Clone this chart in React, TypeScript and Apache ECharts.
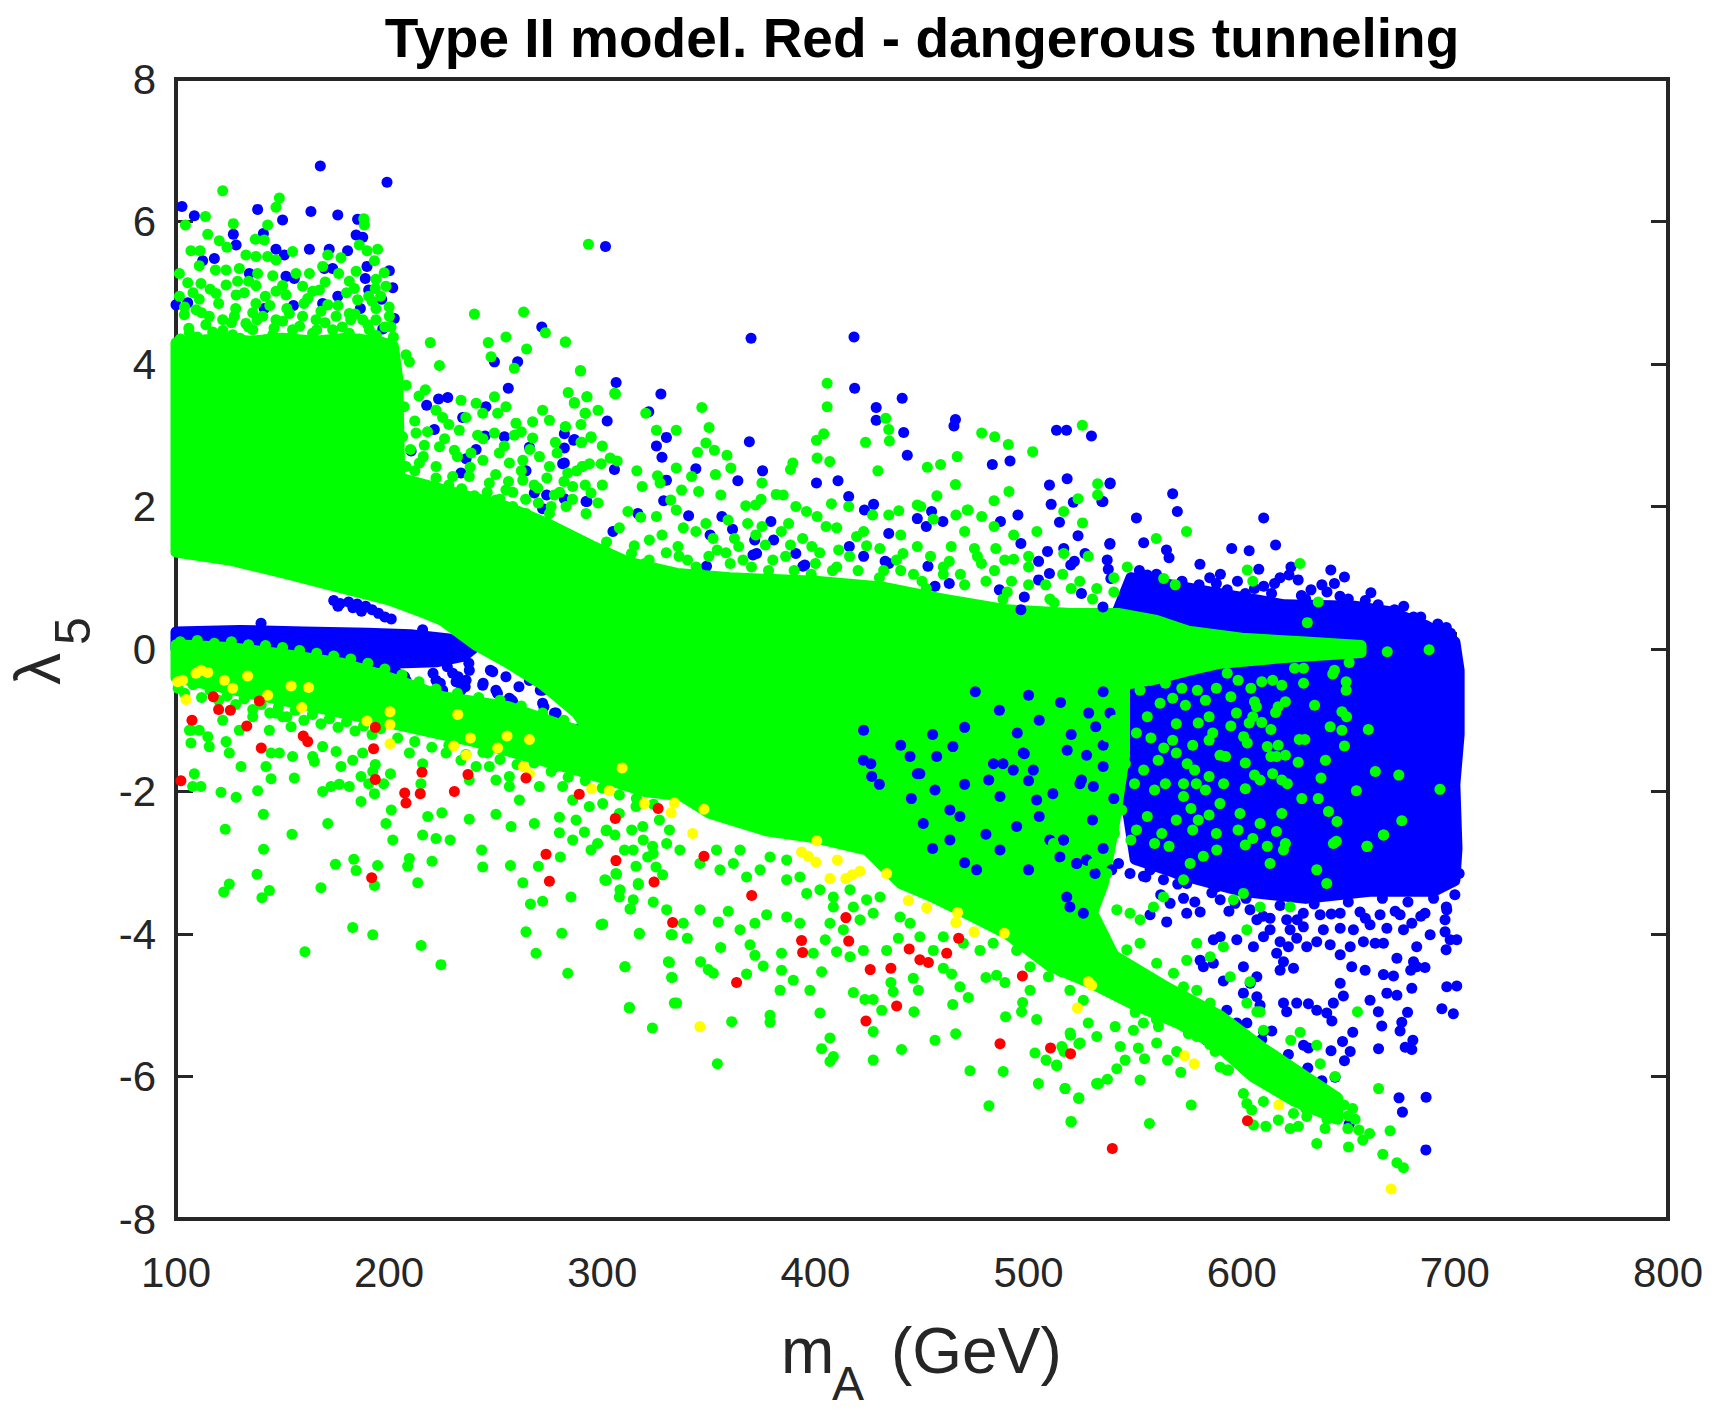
import React, { useEffect, useRef } from "react";
import * as echarts from "echarts";

const FONT = '"Liberation Sans", Arial, Helvetica, sans-serif';
const AXIS_COLOR = "#262626";

const xTicks = { min: 100, max: 800, interval: 100 };
const yTicks = { min: -8, max: 8, interval: 2 };

const titleText = "Type II model. Red - dangerous tunneling";

// Dense (overplotted) regions, traced as outlines in data units
const greenMainOutline = [
  [100, 1.36], [100, 4.3], [108, 4.32], [120, 4.36], [135, 4.32], [150, 4.36], [165, 4.32], [180, 4.36], [195, 4.32], [202, 4.25],
  [204, 3.8], [205, 2.4], [230, 2.2], [255, 2.0], [275, 1.75], [295, 1.45], [312, 1.22], [335, 1.06], [360, 1.0], [400, 0.95],
  [431, 0.87], [460, 0.7], [490, 0.55], [520, 0.5], [542, 0.5], [560, 0.4], [575, 0.25], [600, 0.15], [630, 0.1], [656, 0.05],
  [656, -0.05], [620, -0.12], [590, -0.2], [575, -0.3], [560, -0.42], [545, -0.5], [545, -1.5], [540, -2.5], [535, -3.3],
  [530, -3.7], [540, -4.3], [565, -4.75], [590, -5.15], [610, -5.6], [630, -6.0], [645, -6.3], [645, -6.6],
  [625, -6.35], [605, -6.0], [590, -5.6], [570, -5.25], [550, -5.0], [530, -4.7], [510, -4.45], [490, -4.0], [470, -3.7],
  [455, -3.48], [440, -3.29], [424, -2.82], [400, -2.65], [377, -2.55], [350, -2.3], [334, -2.0], [311, -1.6], [295, -1.2],
  [288, -0.9], [272, -0.5], [256, -0.2], [241, 0.05], [225, 0.4], [217, 0.5], [200, 0.69], [175, 0.88], [150, 1.07], [125, 1.25]
];

const greenLowerBandOutline = [
  [100, 0.06], [125, 0.02], [147, -0.06], [178, -0.2], [194, -0.34], [210, -0.5], [225, -0.67], [256, -0.81], [288, -1.14],
  [310, -1.46], [320, -1.7], [334, -2.05], [320, -2.0], [288, -1.7], [240, -1.3], [194, -1.0], [147, -0.7], [100, -0.4]
];

const blueRightOutline = [
  [548, 1.0], [585, 0.8], [620, 0.62], [653, 0.6], [670, 0.52], [687, 0.32], [700, 0.1], [702, -0.3], [702, -1.2], [700, -1.9],
  [701, -2.8], [700, -3.25], [690, -3.4], [660, -3.4], [630, -3.5], [600, -3.4], [575, -3.2], [550, -2.95], [540, -1.0], [540, 0.4]
];

const blueLowOutline = [
  [100, 0.24], [130, 0.26], [160, 0.24], [190, 0.22], [210, 0.2], [228, 0.14], [240, 0.02], [235, -0.1], [222, -0.18],
  [200, -0.2], [175, -0.16], [150, -0.1], [125, -0.05], [100, 0.0]
];

const bluePoints = [
  [167.7, 6.78], [199, 6.55], [102.8, 6.21], [108.6, 6.08], [138.3, 6.17], [150, 6.02], [163.3, 6.14], [175.9, 6.09], [185.2, 6.03],
  [184.5, 5.81], [187.6, 5.78], [126.9, 5.82], [141, 5.83], [128.2, 5.67], [146.9, 5.61], [150.8, 5.53], [118, 5.48], [112.5, 5.45],
  [162.6, 5.61], [171.9, 5.61], [180.5, 5.59], [189.6, 5.37], [200.1, 5.31], [201.7, 5.07], [188.8, 5.2], [173.5, 5.34], [169.6, 5.34],
  [155.5, 5.2], [151.6, 5.23], [134.4, 5.27], [105.5, 4.86], [100, 4.83], [175.9, 4.95], [155.1, 4.82], [168.8, 4.85], [196.5, 4.91],
  [190.4, 5.04], [202.4, 4.64], [197, 4.49], [186.5, 4.78], [107, 4.24], [141.4, 4.78],
  [271.6, 4.52], [249.4, 4.03], [260.3, 4.03], [255.9, 3.66], [223.2, 3.51], [227.5, 3.53], [217.6, 3.42], [245.4, 3.4], [234.5, 3.25],
  [221.2, 3.08], [210.3, 2.78], [245, 2.99], [254.1, 2.98], [265.8, 2.83], [282.2, 2.82], [286.9, 2.94], [282.2, 3.02], [281.4, 2.6],
  [236.1, 2.67], [233.7, 2.47], [220.4, 2.26], [264.2, 2.5], [268.1, 2.19], [273.9, 2.16], [292.4, 2.07], [272, 1.97], [215, 1.97], [240.8, 2.8],
  [301.5, 5.65], [369.8, 4.36], [418.1, 4.38],
  [306.5, 3.74], [327.5, 3.58], [302.3, 3.2], [286.6, 2.93], [282.2, 2.61], [325.4, 2.85], [330.1, 2.97], [328, 2.69], [321.8, 3.33],
  [369, 2.91], [305.7, 2.52], [343.9, 2.53], [363.6, 2.36], [375.2, 2.5], [330.1, 2.37], [328.8, 2.08], [316.7, 1.9], [305, 1.65],
  [418.4, 3.66], [440.7, 3.52], [428.5, 3.39], [428.5, 3.21], [441.4, 3.04], [443.1, 2.72], [465.7, 3.22], [465, 3.13], [483, 2.59],
  [491.3, 2.64], [513.1, 3.07], [517.8, 3.07], [529.5, 2.99], [518.1, 2.39], [509.8, 2.3], [538.2, 2.32], [534.4, 2.07], [510.6, 2.03],
  [521, 2.06], [514.5, 1.78], [400.5, 2.33], [410.6, 2.36], [415.6, 2.14], [427.3, 2.03], [423, 1.95], [459.8, 1.79], [454.5, 1.93],
  [486.8, 1.79], [495, 1.88], [356.1, 1.86], [361.1, 1.68], [350.6, 1.6], [379.1, 1.79], [380.4, 1.53], [371.5, 1.53], [523.2, 1.59],
  [538.2, 1.48], [526.5, 1.34], [508.9, 1.37], [504.7, 1.23], [519.8, 1.18], [537.4, 1.12], [452.8, 1.16], [452, 1.72], [447.8, 1.83],
  [434.4, 1.62], [432.7, 1.23], [395, 1.18], [390.8, 1.34], [370.7, 1.32], [348.9, 1.16], [340.5, 1.87], [292.8, 2.07], [282.2, 2.11],
  [372.4, 1.34], [394.1, 1.16], [415.9, 1.44], [422.6, 1.3], [434.4, 1.2], [496.4, 1.48], [516.5, 1.41], [521.5, 1.23],
  [538.3, 2.33], [567.6, 2.18], [569.8, 1.93], [534.9, 2.07], [550.6, 1.84], [610.3, 1.84], [538.1, 1.47], [554, 1.49], [564.7, 1.39],
  [565.9, 1.28], [580.4, 1.19], [595.3, 1.41], [603.5, 1.38], [615.9, 1.46], [623.1, 1.15], [641.8, 1.11], [648.2, 1.01], [660.6, 0.79],
  [671.7, 0.55], [680.6, 0.45], [536.9, 1.25], [538.6, 0.99], [555.7, 1.04], [557.4, 0.83], [567.6, 0.74], [576.2, 0.78], [588.1, 0.92],
  [593.2, 0.83], [601.7, 0.78], [610.3, 0.88], [615.4, 0.92], [622.2, 1.04], [626.5, 0.97], [632.5, 0.83], [637.6, 0.9], [643.5, 0.92],
  [646.1, 0.74], [653, 0.55], [574.4, 0.64], [584.7, 0.69],
  [552, 1.1], [560, 1.05], [572, 0.95], [580, 0.9], [590, 1.05], [598, 0.95], [606, 0.85], [614, 0.78], [628, 0.75], [640, 0.8],
  [650, 0.7], [658, 0.68], [664, 0.62], [676, 0.6], [684, 0.45], [692, 0.35], [698, 0.22], [700, 0.05], [696, 0.3], [630, 0.7],
  [618, 1.0], [608, 1.12], [585, 1.0],
  [702, -3.15], [700, -3.45], [696, -3.62], [690, -3.5], [684, -3.75], [678, -3.55], [672, -3.68], [666, -3.5], [658, -3.78], [650, -3.55],
  [642, -3.72], [634, -3.58], [626, -3.8], [618, -3.6], [610, -3.75], [602, -3.5], [594, -3.68], [586, -3.42], [578, -3.55], [570, -3.3],
  [562, -3.45], [555, -3.2],
  [217.3, -0.15], [220.6, -0.34], [227.3, -0.25], [224, -0.48], [232.4, -0.39], [237.4, -0.2], [235.7, -0.53], [244.1, -0.48], [247.5, -0.3],
  [250.8, -0.62], [257.5, -0.72], [260.9, -0.53], [265.9, -0.44], [270.9, -0.58], [272.6, -0.81], [277.6, -0.9], [259.2, -0.81], [200.5, -0.3],
  [207.2, -0.39], [213.9, -0.58], [204.7, -0.15], [192.2, -0.3], [183.8, -0.25], [178.8, -0.15], [222, -0.44], [225.1, -0.58], [229.8, -0.34],
  [231.4, -0.46], [236.1, -0.44], [233.7, -0.58], [237.6, -0.3], [243.9, -0.51], [248.6, -0.32], [250.1, -0.58], [256.4, -0.69], [258, -0.74],
  [261.1, -0.88], [265.8, -0.44], [272, -0.58], [272, -0.76], [278.3, -0.9], [281.4, -1.02], [288.5, -1.13], [272.8, -1.0], [254.8, -0.39],
  [139.9, 0.36], [203.2, -0.32], [207.9, -0.44], [215.7, 0.27], [200.1, -0.06], [190.7, -0.11],
  [174, 0.68], [177, 0.64], [181, 0.66], [185, 0.63], [189, 0.6], [192, 0.55], [195, 0.5], [198, 0.45], [176, 0.6], [183, 0.58], [201, 0.42], [187, 0.53],
  [542.2, -3.01], [547.6, -3.15], [553.9, -3.19], [557, -3.1], [563.3, -3.24], [569.5, -3.15], [574.2, -3.29], [580.5, -3.19], [588.3, -3.34], [591.4, -3.29],
  [673.8, -6.3], [686.5, -6.29], [675.4, -6.5], [686.4, -7.03], [643, -6.45], [650.4, -6.67], [643.8, -6.01], [637.6, -6.06], [631, -5.88],
  [617.7, -5.77], [621.9, -5.69], [648.2, -5.78], [650.9, -5.65], [641.9, -5.64], [664.2, -5.61], [676.7, -5.59], [679.8, -5.62], [680.3, -5.49],
  [674.3, -5.36], [665.7, -5.29], [652.1, -5.38], [647.3, -5.51], [642.3, -5.22], [629, -5.56], [631.3, -5.6], [614.1, -5.36], [609.4, -5.48],
  [610.2, -5.37], [600.8, -5.46], [597.7, -5.25], [602.4, -5.25], [585.2, -5.1], [593, -5.07], [583.6, -5.49], [693.9, -5.05], [699.3, -5.12],
  [696.2, -4.74], [700.9, -4.73], [677.8, -5.1], [675.1, -5.24], [664.1, -5.09], [660.2, -4.93], [668.1, -4.83], [672.8, -4.86], [679.8, -4.76],
  [686, -4.47], [679.3, -4.51], [671.2, -4.59], [666.5, -4.57], [657.9, -4.51], [651.6, -4.46], [646.2, -4.69], [647.7, -4.87], [643, -4.97],
  [635.2, -5.07], [639.9, -5.11], [631.3, -4.98], [625.8, -4.97], [621.1, -5.09], [619.6, -4.97], [608.6, -5.0], [607.1, -4.88], [600.8, -4.83],
  [591.4, -4.66], [582, -4.46], [586.7, -4.41],
  [695.9, -4.22], [697.8, -4.08], [700.9, -4.08], [695.4, -3.97], [695.4, -3.8], [696.2, -3.66], [688.4, -4.01], [682.1, -4.18], [682.1, -4.46],
  [680.6, -4.39], [672.8, -4.34], [666.5, -4.13], [662.6, -4.13], [657.1, -4.11], [650.9, -4.18], [646.2, -4.29], [641.5, -4.15], [635.2, -4.11],
  [630.5, -4.18], [625.8, -4.06], [621.9, -4.18], [618, -4.11], [616.4, -4.27], [619.6, -4.39], [624.3, -4.48], [618, -4.51], [607.1, -4.6],
  [604, -4.69], [600.8, -4.46], [605.5, -4.18], [610.2, -4.04], [613.3, -3.94], [622.7, -3.94], [628.9, -3.9], [638.3, -3.94], [646.2, -3.92],
  [652.4, -3.94], [660.2, -3.87], [668.1, -3.92], [675.9, -3.94], [679.8, -3.85], [686, -3.71], [674.3, -3.73], [664.9, -3.73], [655.5, -3.69],
  [646.2, -3.71], [636.8, -3.73], [628.9, -3.71], [621.1, -3.8], [613.3, -3.78], [607.1, -3.8], [597.7, -4.08], [589.9, -4.04], [586.7, -4.08],
  [580.5, -4.37], [574.2, -3.71], [580.5, -3.69], [566.4, -3.57], [557, -3.73], [564.8, -3.83], [572.7, -3.5], [589.9, -3.52], [596.9, -3.57], [603.9, -3.66]
];

// blue dots that sit in gaps of the dense green area
const blueSpecks = [
  [486.3, -0.86], [494.7, -1.18], [528.2, -0.9], [531.5, -1.09], [538.2, -0.9], [488, -1.61], [511.4, -2.03], [481.3, -1.84], [456.1, -1.98],
  [426, -1.61], [447.8, -1.75], [498, -1.47], [518.1, -1.42], [524.8, -1.84], [464.5, -1.37], [422.6, -1.14], [422.5, -1.56], [426.4, -1.79],
  [444.4, -1.51], [449, -1.75], [456.9, -1.51], [463.1, -2.26], [467.8, -2.35], [463.1, -2.68], [450.6, -2.45], [475.6, -3.1], [486.6, -2.07],
  [494.4, -2.49], [502.2, -1.7], [503.8, -2.12], [510, -2.68], [516.3, -2.68], [522.5, -3.01], [527.2, -2.96], [514.7, -2.92], [524.1, -1.89],
  [530.4, -1.93], [517.9, -3.48], [525.7, -3.71], [519.4, -3.62], [492.8, -1.7], [483.5, -1.61], [497.5, -1.46], [527.2, -1.49], [486.6, -2.82],
  [516.4, -2.68], [522.6, -3.01], [527.3, -2.96], [531.2, -3.15], [539, -3.1], [496.4, 0.55], [498, 0.73], [524.8, 0.78], [534.9, 0.59],
  [486.3, 0.83], [456.1, 0.88], [462.8, 0.92], [509.8, 1.06], [504.7, 0.97],
  [475, -0.6], [500, -0.65], [515, -0.75], [535, -0.6], [505, -1.0], [520, -1.2], [535, -1.35], [470, -1.1], [455, -1.2], [440, -1.35],
  [430, -1.9], [445, -2.1], [470, -1.9], [500, -1.85], [535, -1.65], [540, -2.1], [530, -2.4], [505, -2.35], [480, -2.6], [455, -2.8],
  [470, -3.0], [500, -3.1], [535, -2.8]
];

const greenPoints = [
  [121.9, 6.43], [148.5, 6.33], [146.9, 6.2], [113.8, 6.07], [104.4, 5.95], [126.9, 5.97], [114.9, 5.82], [143, 5.95], [137.2, 5.75], [141.4, 5.74],
  [120.3, 5.73], [123.9, 5.64], [107, 5.59], [111.3, 5.59], [188.4, 5.95], [188.1, 6.04], [186, 5.67], [189.6, 5.59], [194.6, 5.61], [193.1, 5.45],
  [132.8, 5.53], [137.5, 5.51], [143, 5.51], [146.9, 5.46], [154.7, 5.58], [171.2, 5.53], [177.4, 5.49], [110.9, 5.38], [101.6, 5.27], [118.5, 5.32],
  [123.5, 5.32], [129.7, 5.34], [138.3, 5.27], [145.4, 5.24], [156.3, 5.27], [168.8, 5.37], [162.6, 5.27], [184.5, 5.3], [176.3, 5.27], [193.8, 5.19],
  [197.7, 5.28], [198.5, 5.09], [105.5, 5.14], [111.7, 5.13], [123.5, 5.11], [128.9, 5.16], [134.1, 5.16], [137.5, 5.1], [146.9, 5.02], [159.4, 5.09],
  [164.1, 5.02], [167.3, 5.04], [181.3, 5.16], [183.7, 5.06], [193.5, 5.06], [190.4, 4.95], [101.6, 4.95], [110.9, 4.91], [118.8, 4.99], [128.2, 4.97],
  [137.5, 4.85], [141.9, 4.95], [151.6, 4.97], [161.8, 4.92], [171.2, 4.83], [185.2, 4.9], [193.8, 4.78], [200.1, 4.67], [200.9, 4.52], [103.9, 4.69],
  [109.4, 4.76], [115.6, 4.67], [121.9, 4.62], [127.4, 4.67], [132.8, 4.57], [140.7, 4.67], [146.9, 4.62], [153.2, 4.71], [159.4, 4.67], [165.7, 4.62],
  [175.1, 4.67], [181.3, 4.71], [187.6, 4.62], [193.8, 4.62], [106.3, 4.43], [117.2, 4.45], [126.6, 4.41], [136, 4.48], [145.4, 4.41], [154.7, 4.48],
  [164.1, 4.43], [173.5, 4.48], [181.3, 4.43], [190.7, 4.48], [200.1, 4.29],
  [102, 4.35], [106, 4.5], [110, 4.38], [114, 4.55], [118, 4.33], [122, 4.47], [126, 4.58], [130, 4.36], [134, 4.52], [138, 4.62], [142, 4.34],
  [146, 4.5], [150, 4.6], [154, 4.38], [158, 4.53], [162, 4.32], [166, 4.48], [170, 4.58], [174, 4.36], [178, 4.52], [182, 4.62], [186, 4.35],
  [190, 4.55], [194, 4.4], [198, 4.52], [202, 4.38], [104, 4.8], [112, 4.72], [120, 4.85], [128, 4.78], [136, 4.72], [144, 4.82], [152, 4.78],
  [160, 4.85], [168, 4.74], [176, 4.82], [184, 4.7], [192, 4.88], [200, 4.8], [108, 5.0], [116, 5.05], [132, 5.0], [150, 5.1], [170, 5.15],
  [180, 5.0], [196, 4.95],
  [293.5, 5.68], [240, 4.7], [263.1, 4.73], [273.3, 4.44], [219.3, 4.3], [246.5, 4.3], [254.8, 4.38], [282.7, 4.31], [264.5, 4.21], [247.8, 4.1],
  [258.7, 3.94], [289.7, 3.91], [207.9, 4.13], [209.5, 4.03], [223.6, 3.98], [217, 3.64], [233.7, 3.49], [240.8, 3.45], [249.4, 3.54], [254.8, 3.4],
  [292.8, 3.54], [286.9, 3.46], [292.1, 3.31], [222, 3.35], [225.1, 3.25], [243.9, 3.31], [250.9, 3.31], [259.5, 3.17], [267.3, 3.19], [275.2, 3.21],
  [282.7, 3.12], [294.7, 2.98], [290, 2.9], [278.8, 2.75], [267.3, 2.96], [258.7, 3], [249.4, 3.03], [241.5, 3], [232.9, 3.07], [223.6, 2.84],
  [212.6, 3.03], [206.3, 2.98], [216.5, 2.86], [230.6, 2.79], [238.4, 2.75], [251.7, 2.75], [256.4, 2.61], [262.7, 2.65], [270.5, 2.7], [275.2, 2.56],
  [283.8, 2.47], [290.8, 2.56], [286.1, 2.28], [277.5, 2.16], [269.7, 2.26], [262.7, 2.37], [254.8, 2.23], [247, 2.33], [237.6, 2.42], [229.8, 2.42],
  [222, 2.56], [214.2, 2.61], [207.9, 2.56], [209.5, 2.23], [218.9, 2.19], [228.2, 2.05], [236.1, 2.14], [243.9, 2], [250.1, 2.09], [258, 2],
  [264.2, 1.9], [275.2, 1.9], [283, 2], [292.4, 1.9], [294.7, 2.19], [282.7, 4.31], [289.8, 3.9], [305.8, 3.59],
  [207, 3.4], [212, 3.2], [218, 3.05], [226, 2.95], [232, 2.7], [238, 2.55], [244, 2.65], [250, 2.45], [256, 2.35], [262, 2.5], [268, 2.3],
  [274, 2.4], [280, 2.2], [286, 2.1], [292, 2.3], [298, 2.05], [210, 2.8], [216, 2.7], [222, 2.4], [228, 2.3], [234, 2.25], [240, 2.15],
  [246, 2.2], [252, 2.1], [258, 2.2], [264, 2.1], [270, 2.05], [276, 2.0], [282, 2.35], [288, 2.5], [294, 2.6], [300, 2.3], [212, 2.5],
  [220, 2.2], [244, 2.95], [254, 2.85], [266, 2.8], [278, 2.9], [290, 3.15], [300, 2.85], [208, 3.7], [214, 3.55], [228, 3.15], [236, 3.25],
  [262, 3.05], [272, 3.35], [284, 3.6], [298, 3.35],
  [405.5, 3.73], [405.5, 3.4], [292.8, 3.54], [306.2, 3.58], [286.9, 3.45], [291.9, 3.31], [320.4, 3.31], [346.7, 3.39], [282.7, 3.12], [290.3, 2.9],
  [294.8, 2.97], [325.4, 3.07], [334.7, 3.07], [350.1, 3.11], [348.6, 2.89], [352.6, 2.79], [344.7, 2.76], [358.5, 2.72], [360.3, 2.54], [303.7, 2.68],
  [307, 2.64], [299.5, 2.6], [290.6, 2.56], [316.2, 2.5], [325.9, 2.43], [334.7, 2.54], [341.9, 2.42], [353.1, 2.45], [374.9, 2.33], [389.4, 2.61],
  [388.3, 2.52], [400.8, 2.68], [406.7, 2.63], [403.9, 3.02], [400.5, 2.93], [429.3, 2.5], [423.5, 2.9], [433, 3.24], [434.4, 3.08], [434.7, 2.92],
  [452.5, 2.55], [458.7, 2.59], [466.5, 2.7], [478, 3.03], [484.1, 2.98], [490.5, 2.87], [501.9, 2.77], [525.2, 3.14], [465.7, 2.31], [490.8, 2.21],
  [532.4, 2.32], [532.4, 2.16], [523.2, 2.11], [483.8, 2.08], [471.7, 1.95], [465.9, 1.88], [457, 2.15], [447.8, 2.02], [455.3, 1.82], [439.1, 1.94],
  [434.4, 1.88], [415.6, 2], [407.5, 2.04], [395.8, 1.93], [390.8, 2], [381.6, 2.17], [384.9, 2.16], [374.5, 2.1], [367.3, 2.01], [371.9, 2.02],
  [355.6, 2.16], [345.2, 2.21], [337.2, 2.23], [332.1, 2.09], [327.1, 2.33], [318.7, 2.28], [312, 1.93], [325.4, 1.86], [334.7, 1.95], [348.6, 1.76],
  [343.9, 1.65], [359, 1.81], [368.2, 1.76], [374.9, 1.72], [387.4, 1.76], [400.8, 1.86], [405, 1.72], [422.6, 1.65], [426.8, 1.88], [449.4, 2],
  [471.2, 1.95], [478, 1.86], [483.8, 1.72], [493, 1.6], [503.9, 1.65], [516.5, 1.93], [525.3, 1.77], [516.5, 1.34], [463.7, 1.44], [474.6, 1.41],
  [484.6, 1.41], [488.8, 1.25], [493, 1.26], [477.9, 1.2], [462.8, 1.23], [447.8, 1.44], [441.1, 1.34], [430.2, 1.41], [419.3, 1.58], [410.9, 1.39],
  [398.3, 1.44], [388.3, 1.46], [376.5, 1.46], [364, 1.44], [353.9, 1.39], [335.5, 1.44], [322.1, 1.53], [313.7, 1.34], [307, 1.25],
  [320, 1.2], [340, 1.25], [360, 1.2], [380, 1.25], [400, 1.2], [420, 1.1], [440, 1.1], [460, 1.05], [480, 0.95], [500, 0.9], [520, 0.85],
  [540, 0.8], [330, 1.35], [350, 1.3], [370, 1.15], [390, 1.1], [410, 1.15], [430, 1.0], [450, 0.95], [470, 0.9], [490, 0.8], [510, 0.7], [530, 0.7],
  [302, 1.5], [308, 1.7], [315, 1.45], [322, 1.25], [328, 1.6], [336, 1.3], [344, 1.15], [352, 1.55], [358, 1.35], [366, 1.25], [372, 1.6],
  [378, 1.1], [386, 1.3], [394, 1.55], [402, 1.35], [408, 1.1], [416, 1.3], [424, 1.45], [432, 1.1], [438, 1.25], [446, 1.05], [454, 1.3],
  [460, 1.15], [468, 1.05], [476, 1.3], [484, 1.1], [492, 0.95], [500, 1.15], [508, 0.9], [516, 1.05], [524, 0.95], [532, 0.85], [540, 1.0],
  [318, 1.85], [338, 1.7], [362, 1.55], [384, 1.65], [410, 1.7], [440, 1.6], [470, 1.65], [500, 1.3], [528, 1.3], [312, 1.05], [346, 1.05],
  [398, 1.05], [452, 0.85], [488, 0.7], [512, 0.65],
  [559.9, 1.55], [574.1, 1.65], [627.3, 1.2], [546.3, 1.15], [563.4, 0.99], [568.8, 0.9], [602.6, 1.11], [605.2, 0.95], [635.9, 0.66], [630.8, 0.37],
  [668.3, -0.04], [687.9, -0.01],
  [650.4, -0.19], [643.5, -0.3], [642.7, -0.35], [649, -0.46], [649, -0.58], [629, -0.48], [634.2, -0.79], [647, -0.88], [649.2, -0.95], [641.5, -1.09],
  [647, -1.14], [659.4, -1.13], [627, -1.27], [629.6, -1.27], [648.2, -1.36], [626.5, -1.59], [639.3, -1.56], [637.2, -1.81], [662.7, -1.72], [673.7, -1.77],
  [653.8, -1.99], [693, -1.97], [628.2, -2.1], [635.9, -2.1], [640.7, -2.28], [644.7, -2.42], [675.1, -2.41], [666.6, -2.61], [658.9, -2.77], [644.4, -2.7],
  [618.8, -2.31], [616.3, -2.56], [605.2, -2.66], [598.3, -2.54], [608.6, -2.45], [618.8, -1.84], [621.4, -1.89], [614.5, -1.75], [608.6, -1.84], [606, -1.77],
  [601.7, -1.96], [599.2, -2.31], [613.7, -1.51], [616.3, -1.51], [620.5, -1.49], [617.1, -1.35], [612, -1.37], [613.7, -1.13], [609.4, -1.03], [605.2, -0.95],
  [603.5, -1.04], [600.9, -1.23], [602.6, -1.32], [601.7, -1.6], [594.9, -1.08], [597.5, -0.9], [606.9, -0.81], [606, -0.74], [617.1, -0.81], [615.9, -0.89],
  [620.5, -0.74], [604.3, -0.55], [618.8, -0.51], [614.5, -0.44], [609.4, -0.46], [629, -0.27], [624.8, -0.27], [593.2, -0.34], [588.1, -0.55], [583, -0.72],
  [579.2, -0.58], [573.6, -0.79], [569.3, -1.05], [584.7, -0.95], [579.6, -1.04], [586.4, -1.18], [584.7, -1.28], [577, -1.35], [567.6, -1.28], [563.4, -1.39],
  [560.8, -1.56], [569.3, -1.46], [574.4, -1.61], [577.9, -1.7], [584.7, -1.79], [589.8, -1.49], [592.4, -1.51], [578.7, -1.89], [583, -1.98], [572.7, -1.89],
  [564.2, -1.89], [559.1, -1.98], [572.7, -2.07], [576.2, -2.24], [579.6, -2.4], [584.7, -2.33], [589.8, -2.17], [591.5, -1.89], [588.1, -2.59], [577, -2.54],
  [569.3, -2.4], [562.5, -2.59], [555.7, -2.35], [550.6, -2.54], [543.7, -2.26], [538.6, -2.4], [548, -2.68], [540.3, -2.59], [559.1, -2.73], [565.9, -2.77],
  [601.7, -2.75], [612, -2.77], [620.5, -2.73], [554, -1.7], [549.7, -1.89], [542, -1.89], [545.4, -1.61], [557.4, -1.25], [550.6, -1.18], [543.7, -1.28],
  [555.7, -0.95], [561.7, -0.76], [567.6, -0.69], [571.9, -0.55], [564.2, -0.48], [557.4, -0.44], [552.3, -0.58], [543.7, -0.76], [540.3, -1], [536.9, -1.23],
  [536.9, -1.51], [594.9, -0.67], [598.3, -0.44],
  [664.2, -6.17], [669.6, -6.76], [666.2, -7.09], [672.8, -7.21], [675.9, -7.28], [656.8, -6.89], [650.1, -6.99], [653.2, -6.6], [649.8, -6.73], [639.1, -6.73],
  [635.2, -6.94], [639.9, -6.28], [643.8, -6.59], [630.5, -6.56], [626.6, -6.7], [622.7, -6.73], [624.3, -6.52], [617.2, -6.61], [611.3, -6.7], [605.5, -6.68],
  [604.7, -6.47], [600.8, -6.24], [602.4, -6.38], [610.2, -6.35], [635.2, -6.12], [626.1, -5.98], [619.6, -5.91], [612.5, -5.82], [607.1, -5.91], [603.9, -5.82],
  [593.8, -5.91], [589.9, -5.87], [576.3, -6.4], [571.4, -5.94], [569.5, -5.65], [565.2, -5.77], [556.7, -6.66], [552.3, -6.05], [541.4, -5.89], [545.3, -5.77],
  [537, -6.04], [532.8, -6.1], [523.5, -6.31], [520, -6.64], [517.1, -6.17], [513.2, -5.84], [543, -5.58], [551.5, -5.6], [554.4, -5.75], [560.1, -5.53],
  [560.9, -5.3], [553.9, -5.25], [549.2, -5.35], [540.6, -5.3], [532, -5.44], [524.2, -5.53], [519.5, -5.39], [515.6, -5.58], [587.5, -5.65], [593, -5.91],
  [578.9, -5.44], [574.2, -5.3], [627.4, -5.38], [623, -5.49], [635.2, -5.56], [654.3, -5.09], [643.8, -6], [608.6, -5.09], [602.4, -4.97], [636.8, -5.82],
  [550, -5.1], [560, -5.2], [575, -5.4], [585, -5.55], [600, -5.85], [615, -6.15], [630, -6.45], [640, -6.6], [650, -6.55], [655, -6.75],
  [660, -6.8], [648, -6.4], [652, -6.45],
  [511.7, -2.73], [516.4, -3.06], [524.2, -2.77], [530.4, -3.01], [536.7, -3.15], [541.4, -3.66], [547.6, -3.71], [552.3, -3.8], [558.6, -3.62], [563.3, -3.48],
  [572.7, -3.24], [575.8, -3.01], [582, -2.91], [588.3, -2.82], [596.1, -3.52], [600.8, -3.43], [602.4, -3.94], [608.6, -3.62], [613.3, -3.01], [619.6, -2.82],
  [622.7, -3.62], [635.2, -3.1], [639.9, -3.29], [643, -2.73], [666.5, -2.61], [658.7, -2.77], [546.1, -4.22], [552.3, -4.13], [560.1, -4.41], [568, -4.55],
  [572.7, -4.74], [578.9, -4.79], [585.2, -4.97], [593, -5.25], [597.7, -5.44], [574.2, -4.37], [578.9, -4.13], [585.2, -4.32], [591.4, -4.18], [594.6, -4.6],
  [603.9, -4.67], [607.1, -5.09], [610.2, -5.35],
  [300.2, -3.86], [317.4, -3.99], [332.8, -4.01], [339.9, -4.06], [310.6, -4.46], [331, -4.39], [332.5, -4.61], [334.9, -4.97], [312.7, -5.03], [323.5, -5.32],
  [346.1, -4.39], [349.7, -4.5], [352.1, -4.55], [355.5, -4.19], [360.7, -5.23], [354, -5.82], [367.7, -4.56], [375.5, -4.45], [371.6, -4.3], [369.3, -4.15],
  [378.7, -5.14], [378.7, -5.24], [384.1, -4.27], [384.1, -4.51], [383.4, -4.79], [389.6, -4.65], [397.4, -4.79], [402.1, -5.11], [402.9, -4.53], [406.8, -5.46],
  [402.9, -5.61], [406.8, -5.79], [408.4, -5.72], [417.8, -4.82], [423.2, -4.92], [427.1, -4.92], [427.1, -5.37], [427.1, -5.77], [431.1, -5.07], [436.5, -4.81],
  [435.4, -4.68], [440.4, -5.62], [446.2, -5.09], [448.3, -4.79], [445.9, -4.62], [456.1, -5.49], [464.4, -4.99], [465.8, -5.4], [471.7, -4.89], [467.8, -4.74],
  [472.5, -5.92], [481.4, -6.41], [488.1, -5.93], [489.2, -5.16], [480, -4.61], [485, -4.58], [488.9, -4.68], [496.7, -5.09], [503.8, -5.2], [503, -5.67],
  [508.2, -5.77], [513.2, -5.85], [504.6, -6.1], [517.1, -6.17], [523.6, -6.3], [519.9, -6.63], [519.7, -5.42], [523.6, -5.54], [516.6, -5.65], [531.9, -6.1],
  [497.2, -4.96], [500.7, -4.79], [509.3, -4.6], [515.5, -4.53], [519.4, -4.79], [525.7, -4.93], [528, -5.25], [469.4, -4.13], [460, -4.48], [463.9, -4.56],
  [449, -4.04], [455.3, -4.23], [438.9, -4.06], [433.4, -4.23], [422.5, -4.23], [416.2, -4.32], [409.9, -4.25], [399, -4.27], [404.6, -4.08], [413.1, -3.94],
  [420.9, -3.8], [406.8, -3.85], [392.7, -3.85], [386.5, -3.76], [377.1, -3.73], [371.6, -3.85], [364.6, -3.94], [359.1, -3.68], [354.4, -3.83], [345.8, -3.66],
  [338, -3.85], [330.2, -3.66], [323.9, -3.55], [314.5, -3.52], [308.3, -3.38], [301.2, -3.24], [306.7, -3.16], [316.9, -3.29], [313, -3.65],
  [302, -2.54], [305.9, -2.61], [313.8, -2.54], [314.5, -2.82], [319.2, -2.68], [323.9, -2.87], [330.2, -2.73], [336.4, -2.82], [345.8, -3.01], [353.6, -2.82],
  [355.2, -3.1], [361.5, -3.01], [364.6, -2.82], [367.7, -3.2], [374, -3.1], [378.7, -2.92], [386.5, -2.96], [386.5, -3.24], [392.7, -3.2], [395.9, -3.43],
  [402.1, -3.38], [408.4, -3.48], [408.4, -3.62], [416.2, -3.38], [417.8, -3.62], [424, -3.52], [427.1, -3.71], [430.3, -3.48], [439.7, -3.76], [444.4, -3.85],
  [460, -4.04], [477.2, -4.23], [483.4, -4.13], [494.4, -4.23], [500.7, -4.46], [506.9, -4.32], [514.7, -4.41], [527.2, -4.41],
  [108.6, -1.75], [107.8, -1.93], [111.7, -1.93], [121.1, -2.01], [128.2, -2.08], [138.3, -1.99], [141, -2.32], [123.1, -2.53], [154.4, -2.6], [141.1, -2.81],
  [138, -3.16], [125, -3.3], [122.4, -3.41], [140.3, -3.49], [143.8, -3.39], [171.2, -2.45], [168, -3.35], [160.5, -4.25], [182.9, -3.91], [192.3, -4.01],
  [215, -4.16], [224.3, -4.43], [174.8, -3.02], [183.4, -2.95], [184.5, -3.11], [194.6, -3.04], [193.1, -3.32], [201.7, -2.68], [201, -2.26], [198.5, -2.45],
  [209.5, -2.94], [208.7, -3.05], [213.4, -3.28], [220.1, -2.98], [215.7, -2.61], [222, -2.66], [228.6, -2.68], [218.1, -2.35], [224.7, -2.3], [237.6, -2.39],
  [243.4, -2.82], [243.9, -3.06], [256.9, -3.04], [262.7, -3.28], [266.3, -3.58], [272, -3.54], [270, -3.05], [280.3, -2.92], [285.3, -3.48], [281, -3.99],
  [264.2, -3.97], [268.9, -4.27], [283.8, -4.55], [299.4, -3.87], [310.7, -4.46], [312.7, -5.04], [317.4, -4], [313.2, -3.65], [308, -3.48], [301.8, -3.25],
  [306.4, -3.15], [316.9, -3.31], [331.5, -4.4], [332.7, -4.61], [333.8, -4.97], [332.3, -4.01], [250.1, -2.32], [257.2, -2.49], [268.1, -2.45], [279.9, -2.58],
  [286.1, -2.68], [294.7, -2.82], [297.8, -2.73], [291.6, -2.57], [287.7, -2.4], [301.8, -2.55], [310.4, -2.82], [323.6, -2.77], [321.3, -2.92], [328.3, -3.17],
  [315.8, -3.05], [325.2, -3.06], [279.9, -2.36], [186.8, -2.14], [168.8, -2], [172.7, -1.93], [176.6, -1.9], [181.3, -1.93], [190.4, -1.89], [193.1, -2.03],
  [200.6, -1.75], [197.4, -1.89], [193.5, -1.62], [186.8, -1.79], [192.3, -1.72],
  [106.3, -1.14], [107, -1.32], [115.6, -1.37], [114.9, -1.23], [123.5, -1.3], [125, -1.46], [130.5, -1.65], [142.2, -1.65], [144.6, -1.46], [144.6, -1.82],
  [148.5, -1.46], [150, -0.95], [154, -1.09], [154.7, -1.51], [155.5, -1.81], [164.1, -1.51], [164.9, -1.58], [168.8, -1.37], [175.1, -1.44], [177.4, -1.65],
  [182.9, -1.56], [187.6, -1.46], [209.5, -1.46], [215.7, -1.61], [214.9, -1.89], [226.7, -1.46], [233.7, -1.56], [237.6, -1.84], [240.8, -1.65], [246.2, -1.46],
  [247, -1.65], [250.1, -1.84], [256.4, -1.79], [256.4, -1.93], [261.1, -2.12], [270.5, -1.93], [278.3, -1.65], [281.4, -1.93], [286.1, -2.12], [293.9, -2.21],
  [300.2, -2.17], [308, -2.31], [315.8, -2.21], [319, -2.49], [326.8, -2.4], [331.5, -2.54],
  [107, -1.14], [110.9, -1.14], [121.9, -1.0], [129.7, -1.14], [136, -0.95], [143.8, -1.14], [146.9, -0.9],
  [101, -0.55], [104, -0.62], [108, -0.5], [112, -0.68], [116, -0.58], [120, -0.72], [124, -0.66], [128, -0.78], [132, -0.7], [136, -0.85],
  [140, -0.78], [144, -0.9], [148, -0.82], [152, -0.95], [156, -0.86], [160, -1.0], [164, -0.92], [168, -1.05], [172, -0.98], [176, -1.1],
  [180, -1.02], [184, -1.15], [188, -1.08], [192, -1.2], [196, -1.12], [204, -1.25], [212, -1.3], [220, -1.38], [228, -1.35], [236, -1.48],
  [244, -1.45], [252, -1.55], [260, -1.62], [268, -1.6], [276, -1.72], [284, -1.8], [292, -1.85], [300, -1.95], [308, -2.05], [316, -2.1], [324, -2.18],
  [102, 0.1], [110, 0.12], [118, 0.08], [126, 0.1], [134, 0.06], [142, 0.05], [150, 0.02], [158, -0.02], [166, -0.06], [174, -0.1], [182, -0.14],
  [190, -0.2], [198, -0.28], [206, -0.36], [214, -0.46], [222, -0.56], [232, -0.62], [242, -0.68], [252, -0.72], [262, -0.8], [272, -0.9],
  [282, -1.0], [292, -1.12], [302, -1.28]
];

const yellowPoints = [
  [111.7, -0.3], [114.9, -0.33], [109.4, -0.34], [103.1, -0.44], [100.8, -0.46], [104.7, -0.71], [122.7, -0.44], [126.6, -0.55], [133.6, -0.38],
  [143, -0.65], [154, -0.52], [162.2, -0.54], [159, -0.82], [200.4, -0.88], [200.4, -1.06], [200.4, -1.33], [189.6, -1.01], [232.2, -0.92],
  [230.3, -1.36], [236.1, -1.49], [238.1, -1.25], [250.9, -1.39], [255.3, -1.22], [265.8, -1.27], [263, -1.65], [265.8, -1.75], [309.3, -1.67],
  [295, -1.96], [303.3, -1.99], [319.7, -2.17], [332.3, -2.3], [333.8, -2.16], [347.7, -2.25], [342.4, -2.59], [400.6, -2.69], [393.5, -2.85],
  [396.6, -2.91], [400.2, -2.99], [410.3, -2.96], [406.8, -3.22], [414.3, -3.22], [417.3, -3.17], [420.9, -3.12], [433.4, -3.15], [443.6, -3.53],
  [452.2, -3.63], [466.7, -3.7], [465.9, -3.84], [474.4, -3.97], [488.6, -3.99], [528, -4.67], [529.6, -4.72], [522.9, -5.04], [345.8, -5.3],
  [573.1, -5.71], [577.7, -5.82], [617.4, -6.4], [670.1, -7.58]
];

const redPoints = [
  [117.5, -0.67], [120, -0.85], [125.5, -0.86], [107.5, -1.0], [133.2, -1.08], [139.1, -0.73], [140, -1.39], [102.3, -1.85], [159.7, -1.22],
  [161.8, -1.3], [193.5, -1.1], [192.7, -1.4], [193.5, -1.83], [215.4, -1.73], [207.3, -2.02], [214.6, -2.03], [207.9, -2.16], [237, -1.76],
  [230.6, -2.0], [264.2, -1.81], [289.2, -2.04], [306.1, -2.38], [326.2, -2.24], [273.6, -2.88], [306.4, -2.97], [275.2, -3.26], [324.3, -3.27],
  [191.8, -3.21], [333, -3.84], [347.7, -2.91], [370.1, -3.46], [363, -4.68], [414.3, -3.77], [393.5, -4.09], [394, -4.26], [415.6, -4.1],
  [425.7, -4.5], [435.4, -4.48], [438.1, -5.01], [423.7, -5.22], [444, -4.21], [449, -4.36], [453, -4.4], [461.6, -4.27], [467.2, -4.06],
  [497.1, -4.59], [486.6, -5.54], [510.3, -5.6], [519.7, -5.68], [539.3, -7.01], [602.7, -6.62]
];

const BLUE = "#0000ff";
const GREEN = "#00ff00";
const YELLOW = "#ffff00";
const RED = "#ff0000";
const DOT = 11;

function polygonSeries(outline: number[][], color: string, z: number) {
  return {
    type: "custom",
    silent: true,
    z,
    data: [outline[0]],
    renderItem: (_params: any, api: any) => ({
      type: "polygon",
      shape: { points: outline.map((p) => api.coord(p)) },
      style: { fill: color, stroke: color, lineWidth: DOT, lineJoin: "round" },
    }),
  };
}

function dotSeries(data: number[][], color: string, z: number) {
  return {
    type: "scatter",
    silent: true,
    z,
    data,
    symbol: "circle",
    symbolSize: DOT,
    itemStyle: { color, opacity: 1 },
  };
}

export default function App() {
  const ref = useRef<HTMLDivElement | null>(null);
  useEffect(() => {
    if (!ref.current) return;
    const chart = echarts.init(ref.current, undefined, { renderer: "svg" });
    const tick = { inside: true, length: 17, lineStyle: { color: AXIS_COLOR, width: 3 } };
    const label = { color: AXIS_COLOR, fontSize: 42, fontFamily: FONT };
    chart.setOption({
      animation: false,
      backgroundColor: "#ffffff",
      grid: { left: 176, right: 52, top: 79, bottom: 202, show: true, borderColor: AXIS_COLOR, borderWidth: 4, backgroundColor: "transparent" },
      xAxis: [
        { type: "value", ...xTicks, axisLine: { show: false }, axisTick: tick, axisLabel: { ...label, margin: 32 }, splitLine: { show: false } },
        { type: "value", position: "top", ...xTicks, axisLine: { show: false }, axisTick: tick, axisLabel: { show: false }, splitLine: { show: false } },
      ],
      yAxis: [
        { type: "value", ...yTicks, axisLine: { show: false }, axisTick: tick, axisLabel: { ...label, margin: 20 }, splitLine: { show: false } },
        { type: "value", position: "right", ...yTicks, axisLine: { show: false }, axisTick: tick, axisLabel: { show: false }, splitLine: { show: false } },
      ],
      graphic: [
        { type: "text", x: 922, y: 38, style: { text: titleText, fontSize: 55, fontWeight: "bold", fontFamily: FONT, fill: "#000", align: "center", verticalAlign: "middle" } },
        { type: "text", x: 781, y: 1351, style: { text: "m", fontSize: 64, fontFamily: FONT, fill: AXIS_COLOR, align: "left", verticalAlign: "middle" } },
        { type: "text", x: 832, y: 1383, style: { text: "A", fontSize: 48, fontFamily: FONT, fill: AXIS_COLOR, align: "left", verticalAlign: "middle" } },
        { type: "text", x: 891, y: 1351, style: { text: "(GeV)", fontSize: 64, fontFamily: FONT, fill: AXIS_COLOR, align: "left", verticalAlign: "middle" } },
        { type: "text", x: 38, y: 685, rotation: Math.PI / 2, style: { text: "λ", fontSize: 64, fontFamily: FONT, fill: AXIS_COLOR, align: "left", verticalAlign: "middle" } },
        { type: "text", x: 73, y: 645, rotation: Math.PI / 2, style: { text: "5", fontSize: 50, fontFamily: FONT, fill: AXIS_COLOR, align: "left", verticalAlign: "middle" } },
      ],
      series: [
        polygonSeries(blueRightOutline, BLUE, 2),
        polygonSeries(blueLowOutline, BLUE, 2),
        dotSeries(bluePoints, BLUE, 3),
        polygonSeries(greenLowerBandOutline, GREEN, 4),
        polygonSeries(greenMainOutline, GREEN, 4),
        dotSeries(blueSpecks, BLUE, 5),
        dotSeries(greenPoints, GREEN, 6),
        dotSeries(yellowPoints, YELLOW, 7),
        dotSeries(redPoints, RED, 8),
      ],
    });
    return () => chart.dispose();
  }, []);
  return <div ref={ref} style={{ position: "absolute", left: 0, top: 0, width: "1720px", height: "1421px" }} />;
}
